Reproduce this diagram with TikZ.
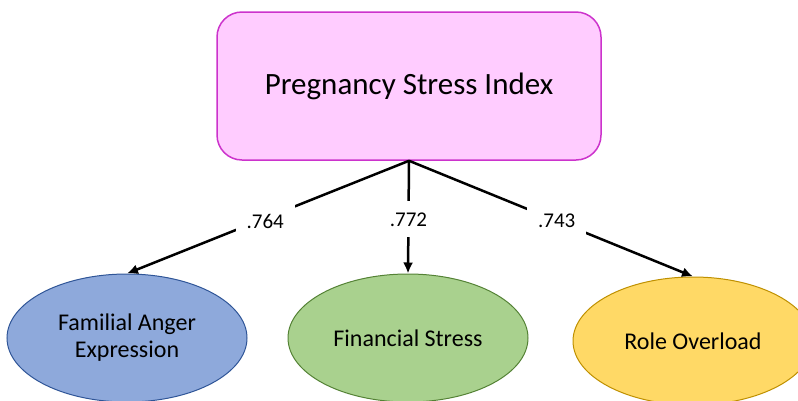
\documentclass[tikz,border=0pt]{standalone}
\usepackage{fontspec}
\setmainfont{Carlito}
\usetikzlibrary{shapes.geometric,arrows.meta}
\definecolor{psifill}{RGB}{255,204,255}
\definecolor{psiline}{RGB}{204,51,204}
\definecolor{faefill}{RGB}{142,169,219}
\definecolor{faeline}{RGB}{47,85,151}
\definecolor{fsfill}{RGB}{169,209,142}
\definecolor{fsline}{RGB}{84,130,53}
\definecolor{rofill}{RGB}{255,217,102}
\definecolor{roline}{RGB}{191,144,0}
\begin{document}
\begin{tikzpicture}[x=1pt,y=-1pt,
    factor/.style={ellipse,draw,line width=1pt,inner sep=0pt,minimum width=240pt,
      minimum height=128pt,align=center,font=\fontsize{24}{27}\selectfont},
    loading/.style={line width=2.5pt,-{Latex[length=11pt,width=10pt]}},
    weight/.style={fill=white,inner sep=11pt,font=\fontsize{21}{24}\selectfont}]
  \useasboundingbox (0,0) rectangle (798,400);
  \node[draw=psiline,fill=psifill,line width=1.5pt,rounded corners=25pt,
    minimum width=384pt,minimum height=148pt,font=\fontsize{31}{36}\selectfont]
    (psi) at (409,86) {Pregnancy Stress Index};

  \node[factor,draw=faeline,fill=faefill] (fae) at (127,338) {Familial Anger\\Expression};
  \node[factor,draw=fsline,fill=fsfill] (fs) at (408,338) {Financial Stress};
  \node[factor,draw=roline,fill=rofill] (ro) at (693,341) {Role Overload};

  \draw[loading] (psi.south) -- (fae.north) node[weight,pos=0.51,yshift=-3pt] {.764};
  \draw[loading] (psi.south) -- (fs.north) node[weight,pos=0.52] {.772};
  \draw[loading] (psi.south) -- (ro.north) node[weight,pos=0.52] {.743};
\end{tikzpicture}
\end{document}
